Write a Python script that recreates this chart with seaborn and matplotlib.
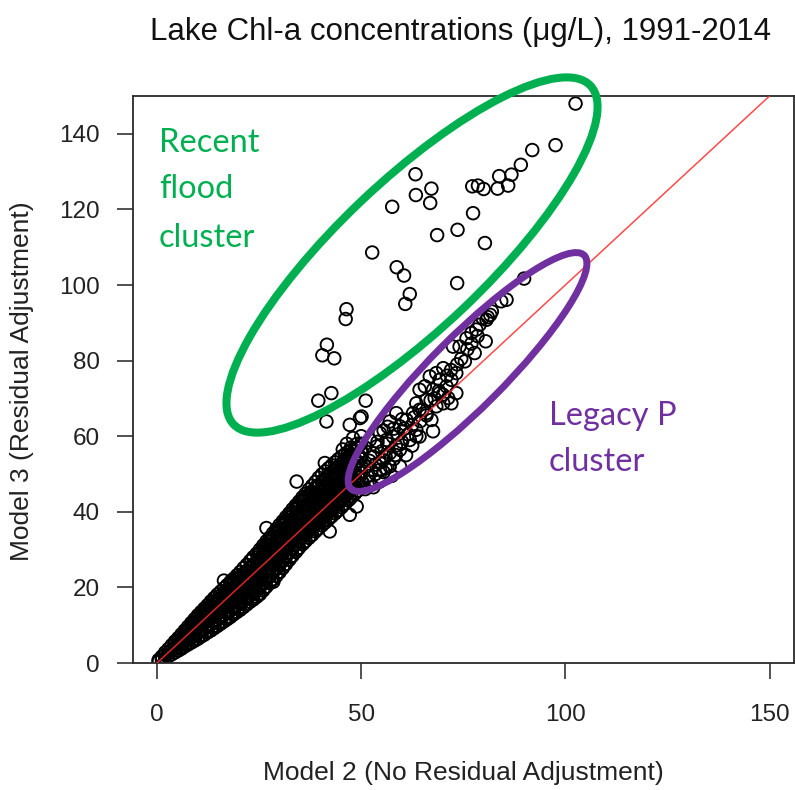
import numpy as np
import pandas as pd
import matplotlib
matplotlib.use("Agg")
import matplotlib.pyplot as plt
import seaborn as sns
from matplotlib.patches import Ellipse
from matplotlib.transforms import Affine2D

# ---------------- data ----------------
title = "Lake Chl-a concentrations (\u03bcg/L), 1991-2014"
xlabel = "Model 2 (No Residual Adjustment)"
ylabel = "Model 3 (Residual Adjustment)"
xticks = [0, 50, 100, 150]
yticks = [0, 20, 40, 60, 80, 100, 120, 140]

# dense main band: one list of Model-3 values per Model-2 column
band_col_x = [0.4, 1.2, 2.0, 2.8, 3.6, 4.4, 5.2, 6.0, 6.8, 7.6, 8.4, 9.2, 10.0,
              10.8, 11.6, 12.4, 13.2, 14.0, 14.8, 15.6, 16.4, 17.2, 18.0, 18.8,
              19.6, 20.4, 21.2, 22.0, 22.8, 23.6, 24.4, 25.2, 26.0, 26.8, 27.6,
              28.4, 29.2, 30.0, 30.8, 31.6, 32.4, 33.2, 34.0, 34.8, 35.6, 36.4,
              37.2, 38.0, 38.8, 39.6, 40.4, 41.2, 42.0, 42.8, 43.6, 44.4, 45.2,
              46.0, 46.8, 47.6, 48.4, 49.2, 50.0]
band_col_y = [
    [0.3, 0.8],
    [0.8, 1.7],
    [1.3, 2.1, 2.8],
    [1.8, 2.7, 3.7],
    [2.3, 3.5, 4.7],
    [2.8, 3.8, 4.8, 5.7],
    [3.3, 4.5, 5.6, 6.6],
    [3.8, 5.0, 6.3, 7.6],
    [4.4, 5.6, 6.9, 8.1, 8.6],
    [4.9, 6.2, 7.5, 8.6, 9.6],
    [5.4, 6.7, 8.0, 9.3, 10.6],
    [5.9, 7.3, 8.8, 10.2, 11.6],
    [6.4, 7.9, 9.4, 10.9, 12.1, 12.6],
    [7.0, 8.5, 10.0, 11.5, 12.9, 13.5],
    [7.5, 9.0, 10.6, 12.2, 13.6, 14.4],
    [8.1, 9.7, 11.3, 12.9, 14.4, 15.3],
    [8.6, 10.2, 11.8, 13.4, 15.0, 16.3],
    [9.2, 10.8, 12.5, 14.1, 15.7, 17.2],
    [9.8, 11.4, 13.1, 14.8, 16.5, 18.1],
    [10.4, 12.0, 13.7, 15.4, 17.1, 18.9],
    [11.0, 12.7, 14.4, 16.1, 17.9, 19.8],
    [11.6, 13.3, 15.0, 16.8, 18.6, 20.6],
    [12.2, 13.9, 15.7, 17.5, 19.3, 21.0, 21.5],
    [12.9, 14.6, 16.4, 18.2, 20.0, 21.7, 22.3],
    [13.5, 15.2, 17.0, 18.8, 20.6, 22.4, 23.2],
    [14.1, 15.8, 17.6, 19.4, 21.2, 23.0, 24.1],
    [14.8, 16.5, 18.3, 20.1, 21.9, 23.7, 25.1],
    [15.5, 17.2, 19.0, 20.8, 22.6, 24.4, 26.0],
    [16.2, 17.9, 19.7, 21.5, 23.3, 25.1, 27.0],
    [16.8, 18.6, 20.4, 22.2, 24.1, 26.0, 28.0],
    [17.5, 19.3, 21.1, 22.9, 24.8, 26.7, 28.9],
    [18.2, 20.0, 21.9, 23.8, 25.7, 27.6, 29.2, 30.0],
    [19.2, 21.0, 22.9, 24.8, 26.7, 28.6, 30.3, 31.1],
    [20.2, 22.0, 23.9, 25.8, 27.7, 29.6, 31.3, 32.2],
    [21.1, 22.9, 24.8, 26.7, 28.6, 30.5, 32.3, 33.2],
    [22.1, 23.9, 25.8, 27.7, 29.6, 31.5, 33.4, 34.3],
    [23.0, 24.9, 26.8, 28.7, 30.6, 32.5, 34.4, 35.4],
    [24.0, 25.9, 27.8, 29.7, 31.6, 33.5, 35.4, 36.5],
    [25.1, 27.0, 28.9, 30.8, 32.7, 34.6, 36.5, 37.5],
    [26.2, 28.1, 30.0, 31.9, 33.8, 35.7, 37.6, 38.6],
    [27.3, 29.2, 31.1, 33.0, 34.9, 36.8, 38.7, 39.6],
    [28.4, 30.3, 32.2, 34.1, 36.0, 37.9, 39.8, 40.7],
    [29.4, 31.3, 33.2, 35.1, 37.0, 38.9, 40.8, 41.7],
    [30.5, 32.4, 34.3, 36.2, 38.1, 40.0, 41.9, 42.7],
    [31.4, 33.3, 35.2, 37.1, 39.0, 40.9, 42.8, 43.8],
    [32.3, 34.2, 36.1, 38.0, 39.9, 41.8, 43.7, 44.8],
    [33.1, 35.0, 36.9, 38.8, 40.7, 42.6, 44.5, 45.9],
    [33.9, 35.8, 37.7, 39.6, 41.5, 43.4, 45.3, 46.9],
    [34.8, 36.7, 38.6, 40.5, 42.4, 44.3, 46.2, 47.9],
    [35.6, 37.5, 39.4, 41.3, 43.2, 45.1, 47.0, 49.0],
    [36.4, 38.3, 40.2, 42.1, 44.0, 45.9, 47.8, 49.9],
    [37.2, 39.1, 41.0, 42.9, 44.8, 46.7, 48.6, 50.7],
    [38.0, 39.9, 41.8, 43.7, 45.6, 47.5, 49.4, 51.5],
    [38.8, 40.7, 42.6, 44.5, 46.4, 48.3, 50.2, 52.3],
    [39.6, 41.5, 43.4, 45.3, 47.2, 49.1, 51.0, 53.1],
    [40.4, 42.3, 44.2, 46.1, 48.0, 49.9, 51.8, 53.9],
    [41.2, 43.1, 45.0, 46.9, 48.8, 50.7, 52.6, 54.6],
    [42.1, 44.0, 45.9, 47.8, 49.7, 51.6, 53.5, 55.2],
    [43.0, 44.9, 46.8, 48.7, 50.6, 52.5, 54.4, 55.8],
    [43.9, 45.8, 47.7, 49.6, 51.5, 53.4, 55.3, 56.3],
    [44.7, 46.6, 48.5, 50.4, 52.3, 54.2, 56.1],
    [45.6, 47.5, 49.4, 51.3, 53.2, 55.1, 57.0],
    [46.5, 48.4, 50.3, 52.2, 54.1, 56.0, 58.0],
]

# second, offset set of columns inside the band (fills the gaps of the first)
band2_col_x = [5.6, 7.2, 8.8, 10.4, 12.0, 13.6, 15.2, 16.8, 18.4, 20.0, 21.6,
               23.2, 24.8, 26.4, 28.0, 29.6, 31.2, 32.8, 34.4, 36.0, 37.6, 39.2,
               40.8, 42.4, 44.0, 45.6, 47.2]
band2_col_y = [
    [4.0, 5.1, 6.2],
    [5.2, 6.8, 8.3],
    [6.1, 7.7, 9.3, 10.4],
    [7.2, 8.7, 10.3, 11.9],
    [8.3, 9.9, 11.5, 13.2],
    [9.4, 11.1, 12.8, 14.6, 16.0],
    [10.6, 12.3, 14.1, 15.9, 17.6],
    [11.8, 13.7, 15.6, 17.4, 19.2],
    [13.1, 15.0, 17.0, 18.9, 20.8],
    [14.3, 16.4, 18.4, 20.5, 22.4],
    [15.6, 17.6, 19.7, 21.8, 23.9],
    [16.9, 19.0, 21.1, 23.2, 25.5, 27.3],
    [18.2, 20.3, 22.5, 24.6, 26.8, 28.6],
    [20.0, 22.1, 24.3, 26.4, 28.6, 30.6],
    [22.0, 24.1, 26.3, 28.4, 30.6, 32.7],
    [24.0, 26.2, 28.4, 30.6, 32.8, 34.9],
    [26.0, 28.2, 30.5, 32.7, 35.0, 37.1],
    [28.0, 30.3, 32.6, 34.9, 37.2, 39.4],
    [30.0, 32.3, 34.6, 36.9, 39.2, 41.4],
    [31.9, 34.2, 36.5, 38.8, 41.1, 43.4],
    [33.7, 36.0, 38.3, 40.6, 42.9, 45.2],
    [35.4, 37.7, 40.0, 42.3, 44.6, 46.9],
    [37.0, 39.3, 41.6, 43.9, 46.2, 48.5],
    [38.6, 40.9, 43.2, 45.5, 47.8, 50.1],
    [40.2, 42.5, 44.8, 47.1, 49.4, 51.7],
    [41.8, 44.1, 46.4, 48.7, 51.0, 53.2],
    [43.4, 45.7, 48.0, 50.3, 52.6, 54.6],
]

# scattered points at the band edges
edge_pts = [(34.2, 48.0), (26.8, 35.7), (16.4, 21.8), (28.5, 21.5), (47.2, 39.2),
            (48.9, 41.4), (41.1, 52.9), (42.3, 34.8)]

# "Recent flood" outliers
flood_pts = [(102.5, 148.0), (97.6, 137.0), (91.9, 135.7), (89.1, 131.8), (86.8, 129.2),
             (83.8, 128.8), (86.0, 126.3), (83.4, 125.5), (77.2, 126.1), (78.6, 126.3),
             (80.0, 125.4), (63.3, 129.3), (63.4, 123.8), (67.2, 125.5), (66.9, 121.7),
             (57.6, 120.7), (77.4, 119.0), (73.6, 114.6), (68.6, 113.2), (80.3, 111.1),
             (52.7, 108.6), (58.7, 104.7), (60.5, 102.5), (73.5, 100.5), (61.9, 97.6),
             (60.8, 95.0), (46.4, 93.6), (46.2, 91.0), (41.6, 84.2), (40.5, 81.4),
             (43.4, 80.6), (39.5, 69.4), (42.7, 71.4), (51.1, 69.4), (41.5, 63.9),
             (50.1, 65.2), (47.2, 63.0), (49.7, 64.8)]

# "Legacy P" cluster
legacy_pts = [(89.9, 101.7), (85.6, 96.1), (84.3, 95.7), (81.6, 92.1), (80.7, 90.8),
              (79.7, 91.3), (80.5, 85.1), (78.2, 88.2), (77.0, 87.3), (75.8, 85.9),
              (74.1, 83.7), (77.8, 82.0), (75.4, 79.8), (73.3, 71.4), (70.9, 73.2),
              (72.1, 68.7), (70.1, 78.0), (68.4, 76.7), (69.2, 74.9), (66.8, 75.8),
              (65.6, 73.2), (64.3, 72.3), (67.6, 72.3), (66.0, 69.6), (63.5, 68.7),
              (67.2, 64.3), (67.6, 61.3), (62.7, 66.1), (61.1, 64.3), (59.5, 62.6),
              (63.5, 61.7), (61.9, 59.0), (58.6, 66.1), (57.0, 63.9), (57.8, 59.9),
              (56.2, 59.0), (54.6, 60.8), (59.5, 56.4), (57.0, 55.5), (55.4, 53.7),
              (53.8, 57.3), (52.1, 59.0), (52.9, 54.6), (51.3, 52.0), (54.6, 51.1),
              (49.7, 54.6), (73.3, 76.7), (71.3, 70.1), (72.5, 83.7), (72.1, 74.9),
              (69.2, 71.4), (66.0, 66.1), (64.3, 67.0), (68.4, 67.9), (64.3, 59.9),
              (70.1, 68.7), (50.5, 47.5), (51.5, 49.5), (52.5, 51.0), (53.5, 50.0),
              (52.0, 53.5), (53.0, 55.5), (54.5, 53.0), (55.0, 56.0), (56.0, 54.5),
              (55.5, 50.5), (57.0, 52.0), (58.0, 54.0), (56.5, 58.0), (58.5, 57.5),
              (59.0, 60.5), (60.0, 58.5), (60.5, 62.0), (61.5, 60.5), (62.5, 63.0),
              (63.0, 65.0), (64.5, 64.0), (65.0, 67.0), (66.0, 65.5), (67.0, 69.5),
              (68.0, 70.0), (69.0, 72.0), (70.0, 71.0), (71.0, 76.0), (72.0, 77.5),
              (73.5, 79.0), (74.5, 80.5), (76.0, 83.0), (77.0, 84.5), (78.5, 86.5),
              (79.0, 89.5), (81.0, 91.5), (82.0, 93.0), (53.0, 46.5), (54.5, 48.0),
              (57.5, 49.5), (59.5, 52.0), (61.0, 55.0), (62.5, 57.5), (63.5, 60.0),
              (45.5, 56.5), (46.5, 58.0), (47.5, 57.0), (48.0, 59.5), (49.0, 58.0),
              (50.0, 60.0), (51.0, 57.0), (50.0, 56.0), (48.5, 50.5), (49.5, 49.0),
              (51.0, 46.0), (52.0, 48.0), (53.5, 52.5), (54.0, 58.5), (55.5, 61.5),
              (56.5, 62.5), (58.0, 62.0), (60.0, 64.5), (56.0, 51.5), (58.5, 55.0)]

flood_label = ["Recent", "flood", "cluster"]
legacy_label = ["Legacy P", "cluster"]

# ---------------- build table ----------------
rows = []
for cx, ys in zip(band_col_x + band2_col_x, band_col_y + band2_col_y):
    for yv in ys:
        rows.append((cx, yv))
rows += edge_pts + legacy_pts + flood_pts
df = pd.DataFrame(rows, columns=["m2", "m3"])

# ---------------- figure ----------------
sns.set_theme(style="white")
plt.rcParams["font.family"] = ["Liberation Sans", "DejaVu Sans"]

W, H = 795, 790
fig = plt.figure(figsize=(W / 100, H / 100), dpi=100)
fig.patch.set_facecolor("white")
L, R, T, B = 132.5, 794.0, 96.0, 663.0
ax = fig.add_axes([L / W, 1 - B / H, (R - L) / W, (B - T) / H])
ax.set_facecolor("white")

sns.scatterplot(data=df, x="m2", y="m3", ax=ax, marker="o", s=82,
                facecolors="none", edgecolor="black", linewidth=1.35,
                legend=False, zorder=2)
ax.axline((0, 0), slope=1, color="#ff2a2a", lw=1.1, alpha=0.85, zorder=3)

ax.set_xlim(-6, 156)
ax.set_ylim(0, 150)
ax.set_xticks(xticks)
ax.set_yticks(yticks)
ax.set_xticklabels([str(v) for v in xticks])
ax.set_yticklabels([str(v) for v in yticks])
for s in ax.spines.values():
    s.set_visible(True)
    s.set_color("#2a2a2a")
    s.set_linewidth(1.3)
ax.tick_params(axis="both", which="major", bottom=True, left=True,
               direction="out", length=11.5, width=1.2,
               color="#333333", labelsize=17.5, labelcolor="#222222")
ax.tick_params(axis="x", pad=18)
ax.tick_params(axis="y", pad=12)

ax.set_xlabel(xlabel, fontsize=19, color="#222222")
ax.set_ylabel(ylabel, fontsize=19, color="#222222")
ax.xaxis.set_label_coords((463 - L) / (R - L), (B - 773) / (B - T))
ax.xaxis.label.set_verticalalignment("center")
ax.yaxis.set_label_coords((22 - L) / (R - L), (B - 381) / (B - T))
ax.yaxis.label.set_verticalalignment("center")

ax.set_title(title, fontsize=22.5, color="#111111",
             x=(461 - L) / (R - L), y=(B - 40) / (B - T), va="baseline", pad=0)

# ---------------- annotations (pixel coordinates) ----------------
px = Affine2D().scale(1 / 100) + fig.dpi_scale_trans
fig.add_artist(Ellipse((412, H - 255), width=492, height=148, angle=43.5,
                       fill=False, edgecolor="#00B050", lw=5.8, transform=px, zorder=5))
fig.add_artist(Ellipse((467.5, H - 372), width=330, height=72, angle=45,
                       fill=False, edgecolor="#7030A0", lw=5.0, transform=px, zorder=5))

for txt, yb in zip(flood_label, [151.7, 198.3, 246.7]):
    fig.text(159 / W, 1 - yb / H, txt, color="#00B050", fontsize=23.5,
             family=["Lato", "DejaVu Sans"], ha="left", va="baseline")
for txt, yb in zip(legacy_label, [425.0, 470.7]):
    fig.text(549 / W, 1 - yb / H, txt, color="#7030A0", fontsize=23.5,
             family=["Lato", "DejaVu Sans"], ha="left", va="baseline")

fig.savefig("out.png", dpi=100, facecolor="white")
